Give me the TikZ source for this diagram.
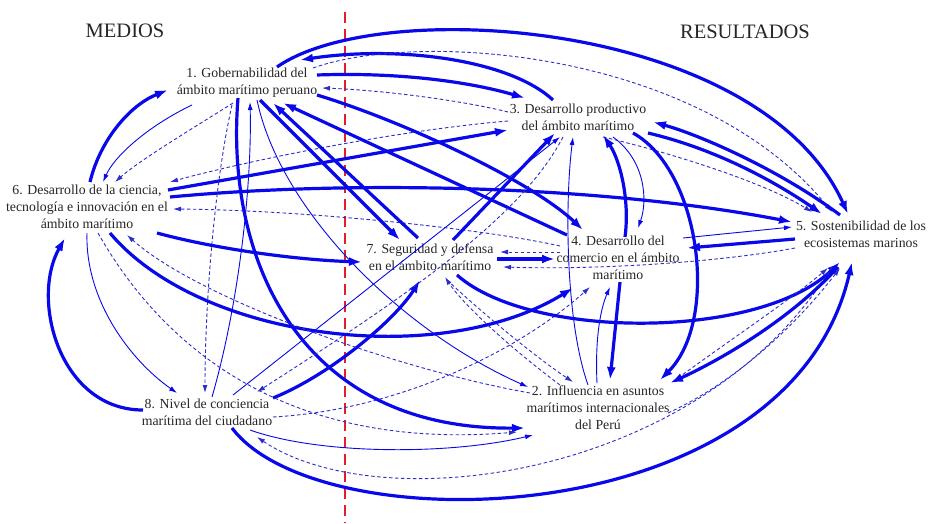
\documentclass[tikz,border=0pt]{standalone}
\usepackage{fontspec}
\setmainfont{Liberation Serif}
\usetikzlibrary{arrows.meta,calc}
\definecolor{eblue}{RGB}{8,8,235}
\definecolor{dblue}{RGB}{45,45,205}
\definecolor{ered}{RGB}{228,30,40}
\begin{document}
\begin{tikzpicture}[x=1pt,y=-1pt,
  lbl/.style={font=\fontsize{13.8}{17}\selectfont, align=center, text=black!85, inner sep=0pt},
  ttl/.style={font=\fontsize{20.5}{24}\selectfont, text=black!85, inner sep=0pt},
  tk/.style={line width=3.2pt, draw=eblue, -{Latex[length=13pt,width=9pt]}},
  tn/.style={line width=0.9pt, draw=eblue, -{Latex[length=8pt,width=5pt]}},
  ds/.style={line width=0.9pt, draw=dblue, dash pattern=on 3.5pt off 2.5pt, -{Latex[length=8pt,width=5pt]}},
  divider/.style={line width=2.4pt, draw=ered, dash pattern=on 11pt off 6pt}]
\fill[white] (0,0) rectangle (929,523);
\useasboundingbox (0,0) rectangle (929,523);

\node[ttl] (medios) at (125,31) {MEDIOS};
\node[ttl] (result) at (745,32) {RESULTADOS};
\coordinate (dtop) at (345,12);
\coordinate (dbot) at (345,523);
\draw[divider] (dtop) -- (dbot);

\node[lbl] (n1) at (247,83) {1. Gobernabilidad del\\ámbito marítimo peruano};
\node[lbl] (n3) at (578,117) {3. Desarrollo productivo\\del ámbito marítimo};
\node[lbl] (n6) at (87,207) {6. Desarrollo de la ciencia,\\tecnología e innovación en el\\ámbito marítimo};
\node[lbl] (n5) at (861,234) {5. Sostenibilidad de los\\ecosistemas marinos};
\node[lbl] (n7) at (430,257) {7. Seguridad y defensa\\en el ámbito marítimo};
\node[lbl] (n4) at (618,258) {4. Desarrollo del\\comercio en el ámbito\\marítimo};
\node[lbl] (n2) at (598,408) {2. Influencia en asuntos\\marítimos internacionales\\del Perú};
\node[lbl] (n8) at (207,412) {8. Nivel de conciencia\\marítima del ciudadano};

% top region
\draw[tk] ($(n1)+(30,-16)$) .. controls (380,-5) and (760,20) .. ($(n5)+(-13,-20)$);
\draw[tk] ($(n3)+(-25,-17)$) .. controls (510,60) and (400,45) .. ($(n1)+(53,-23)$);
\draw[tk] ($(n1)+(70,-8)$) .. controls (400,72) and (470,82) .. ($(n3)+(-53,-19)$);
\draw[ds] ($(n3)+(-70,-5)$) .. controls (460,100) and (380,90) .. ($(n1)+(75,5)$);
\draw[ds] ($(n1)+(66,-15)$) .. controls (420,30) and (700,50) .. ($(n5)+(-29,-22)$);
\draw[tk] ($(n5)+(-21,-19)$) .. controls (780,170) and (700,135) .. ($(n3)+(75,5)$);
\draw[tk] ($(n3)+(70,16)$) .. controls (720,150) and (780,185) .. ($(n5)+(-39,-20)$);
\draw[ds] ($(n3)+(25,20)$) .. controls (660,150) and (760,180) .. ($(n5)+(-49,-22)$);
\draw[tk] ($(n6)+(81,-17)$) -- ($(n3)+(-70,13)$);
\draw[ds] ($(n3)+(-70,4)$) .. controls (400,130) and (250,160) .. ($(n6)+(83,-25)$);
\draw[tk] ($(n6)+(83,-10)$) .. controls (350,180) and (600,185) .. ($(n5)+(-69,-12)$);
\draw[ds] ($(n4)+(-58,-12)$) .. controls (480,228) and (300,210) .. ($(n6)+(86,2)$);

% around 1 and 6
\draw[tk] ($(n6)+(3,-25)$) .. controls (100,140) and (130,105) .. ($(n1)+(-79,7)$);
\draw[tn] ($(n1)+(-55,22)$) .. controls (150,125) and (115,155) .. ($(n6)+(16,-25)$);
\draw[ds] ($(n1)+(-14,20)$) .. controls (190,130) and (140,160) .. ($(n6)+(28,-25)$);
\draw[tk] ($(n1)+(-9,15)$) .. controls (225,260) and (300,430) .. ($(n2)+(-73,20)$);
\draw[tn] ($(n8)+(5,-15)$) .. controls (240,300) and (252,180) .. ($(n1)+(3,19)$);
\draw[tn] ($(n1)+(10,17)$) .. controls (280,210) and (400,330) .. ($(n2)+(-70,-21)$);
\draw[ds] ($(n1)+(-15,22)$) .. controls (215,180) and (205,300) .. ($(n8)+(-2,-19)$);
\draw[tk] ($(n1)+(13,17)$) -- ($(n7)+(-30,-17)$);
\draw[tk] ($(n7)+(-12,-19)$) -- ($(n1)+(26,20)$);
\draw[tk] ($(n4)+(-51,-23)$) -- ($(n1)+(36,20)$);
\draw[tk] ($(n1)+(70,12)$) .. controls (400,120) and (530,180) .. ($(n4)+(-35,-28)$);

% centre
\draw[tk] ($(n7)+(23,-17)$) -- ($(n3)+(-23,16)$);
\draw[tk] ($(n8)+(66,-14)$) .. controls (330,375) and (395,320) .. ($(n7)+(-10,23)$);
\draw[tn] ($(n8)+(26,-17)$) -- ($(n3)+(-18,20)$);
\draw[ds] ($(n3)+(-15,20)$) .. controls (520,220) and (400,300) .. ($(n8)+(50,-20)$);
\draw[tn] ($(n2)+(-10,-23)$) .. controls (565,320) and (565,200) .. ($(n3)+(-5,20)$);
\draw[tk] ($(n4)+(7,-21)$) .. controls (630,200) and (620,160) .. ($(n3)+(25,18)$);
\draw[tn] ($(n3)+(35,20)$) .. controls (645,160) and (648,200) .. ($(n4)+(20,-30)$);
\draw[tk] ($(n3)+(55,16)$) .. controls (700,170) and (720,320) .. ($(n2)+(62,-28)$);
\draw[ds] ($(n4)+(-58,-6)$) -- ($(n7)+(70,-5)$);
\draw[tk] ($(n7)+(67,2)$) -- ($(n4)+(-63,1)$);
\draw[ds] ($(n5)+(-66,14)$) .. controls (720,262) and (600,270) .. ($(n7)+(73,10)$);
\draw[tk] ($(n5)+(-66,5)$) -- ($(n4)+(69,-10)$);
\draw[tn] ($(n4)+(65,-20)$) -- ($(n5)+(-69,-7)$);
\draw[tk] ($(n4)+(2,24)$) -- ($(n2)+(12,-28)$);
\draw[tn] ($(n2)+(-1,-25)$) .. controls (595,340) and (600,310) .. ($(n4)+(-8,29)$);
\draw[ds] ($(n8)+(66,5)$) .. controls (400,410) and (520,350) .. ($(n4)+(-28,29)$);
\draw[tk] ($(n6)+(23,26)$) .. controls (200,340) and (440,370) .. ($(n4)+(-45,30)$);
\draw[tk] ($(n6)+(70,26)$) .. controls (220,250) and (300,260) .. ($(n7)+(-68,5)$);
\draw[tk] ($(n7)+(27,18)$) .. controls (530,340) and (760,340) .. ($(n5)+(-21,28)$);
\draw[ds] ($(n7)+(17,23)$) .. controls (490,320) and (540,360) .. ($(n2)+(-25,-26)$);
\draw[ds] ($(n2)+(-38,-23)$) .. controls (500,340) and (460,300) .. ($(n7)+(15,20)$);

% lower left
\draw[tk] ($(n8)+(-64,-2)$) .. controls (60,410) and (30,300) .. ($(n6)+(-22,31)$);
\draw[tn] ($(n6)+(0,26)$) .. controls (85,300) and (130,360) .. ($(n8)+(-30,-19)$);
\draw[ds] ($(n6)+(11,26)$) .. controls (170,360) and (300,450) .. ($(n2)+(-81,24)$);
\draw[ds] ($(n2)+(-68,-15)$) .. controls (400,370) and (200,300) .. ($(n6)+(40,28)$);

% bottom
\draw[tk] ($(n8)+(25,16)$) .. controls (320,545) and (790,535) .. ($(n5)+(-9,28)$);
\draw[ds] ($(n5)+(-29,33)$) .. controls (700,480) and (380,520) .. ($(n8)+(50,25)$);
\draw[tn] ($(n8)+(43,18)$) .. controls (320,455) and (450,455) .. ($(n2)+(-65,27)$);
\draw[ds] ($(n2)+(80,-30)$) .. controls (730,340) and (790,300) .. ($(n5)+(-33,34)$);
\draw[ds] ($(n2)+(70,5)$) .. controls (740,380) and (800,320) .. ($(n5)+(-21,34)$);
\draw[tk] ($(n5)+(-23,33)$) .. controls (790,320) and (720,360) .. ($(n2)+(72,-25)$);
\end{tikzpicture}
\end{document}
